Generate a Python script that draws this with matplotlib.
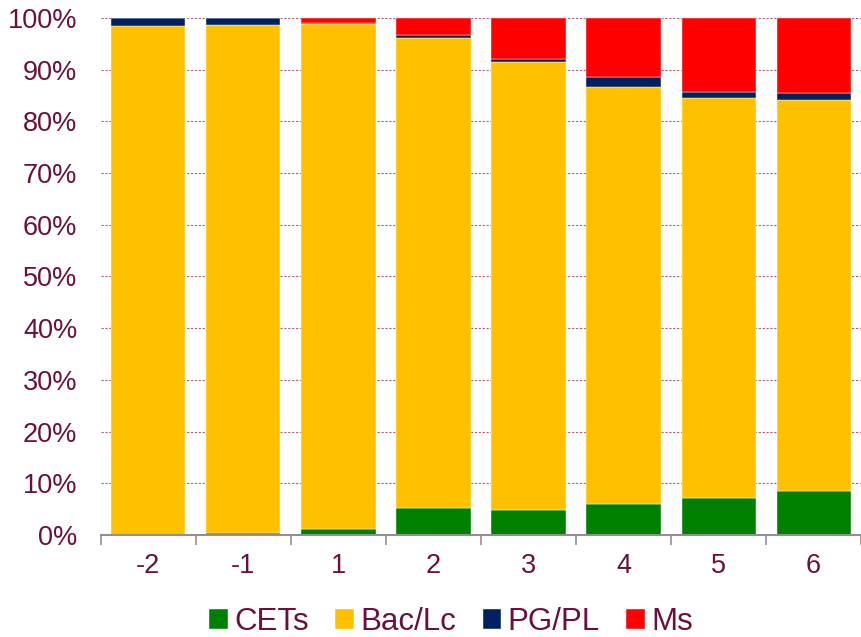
import matplotlib.pyplot as plt
import numpy as np

categories = ["-2", "-1", "1", "2", "3", "4", "5", "6"]
cets = [0.0, 0.4, 1.1, 5.2, 4.8, 6.0, 7.1, 8.6]
bac_lc = [98.5, 98.3, 97.8, 90.9, 86.6, 80.6, 77.4, 75.5]
pg_pl = [1.5, 1.3, 0.1, 0.5, 0.7, 1.9, 1.2, 1.3]
ms = [0.0, 0.0, 1.0, 3.4, 7.9, 11.5, 14.3, 14.6]

series = [("CETs", cets, "#008000"), ("Bac/Lc", bac_lc, "#FFC000"),
          ("PG/PL", pg_pl, "#002060"), ("Ms", ms, "#FF0000")]

text_color = "#6B0F3F"
plt.rcParams["font.family"] = ["Liberation Sans", "DejaVu Sans"]

fig = plt.figure(figsize=(8.62, 6.37), dpi=100)
ax = fig.add_axes([0.117, 0.160, 0.882, 0.812])

x = np.arange(len(categories))
bottom = np.zeros(len(categories))
handles = []
for name, vals, color in series:
    vals = np.array(vals)
    b = ax.bar(x, vals, 0.78, bottom=bottom, color=color, label=name,
               edgecolor="white", linewidth=0.3)
    handles.append(b)
    bottom += vals

ax.set_xlim(-0.5, len(categories) - 0.5)
ax.set_ylim(0, 100)
ax.set_yticks(np.arange(0, 101, 10))
ax.set_yticklabels([f"{v}%" for v in range(0, 101, 10)])
ax.yaxis.grid(True, linestyle=(0, (2, 1.5)), color="#A8607E", linewidth=0.8)
ax.set_axisbelow(True)

ax.set_xticks(np.arange(-0.5, len(categories)))
ax.set_xticklabels([])
ax.set_xticks(x, minor=True)
ax.set_xticklabels(categories, minor=True)
ax.tick_params(axis="x", which="major", length=7, width=1.2, color="#909090", direction="out")
ax.tick_params(axis="x", which="minor", length=0, pad=13, labelsize=19.5, labelcolor=text_color)
ax.tick_params(axis="y", length=0, pad=17, labelsize=19.5, labelcolor=text_color)

for s in ["top", "right", "left"]:
    ax.spines[s].set_visible(False)
ax.spines["bottom"].set_color("#909090")
ax.spines["bottom"].set_linewidth(1.5)

fig.legend(handles=handles, loc="center", bbox_to_anchor=(451 / 862, 1 - 622 / 637),
           ncol=4, frameon=False, fontsize=22.5, labelcolor=text_color,
           handlelength=0.6, handleheight=0.6, handletextpad=0.2, columnspacing=0.85,
           borderpad=0.0)

fig.savefig("out.png", dpi=100)
